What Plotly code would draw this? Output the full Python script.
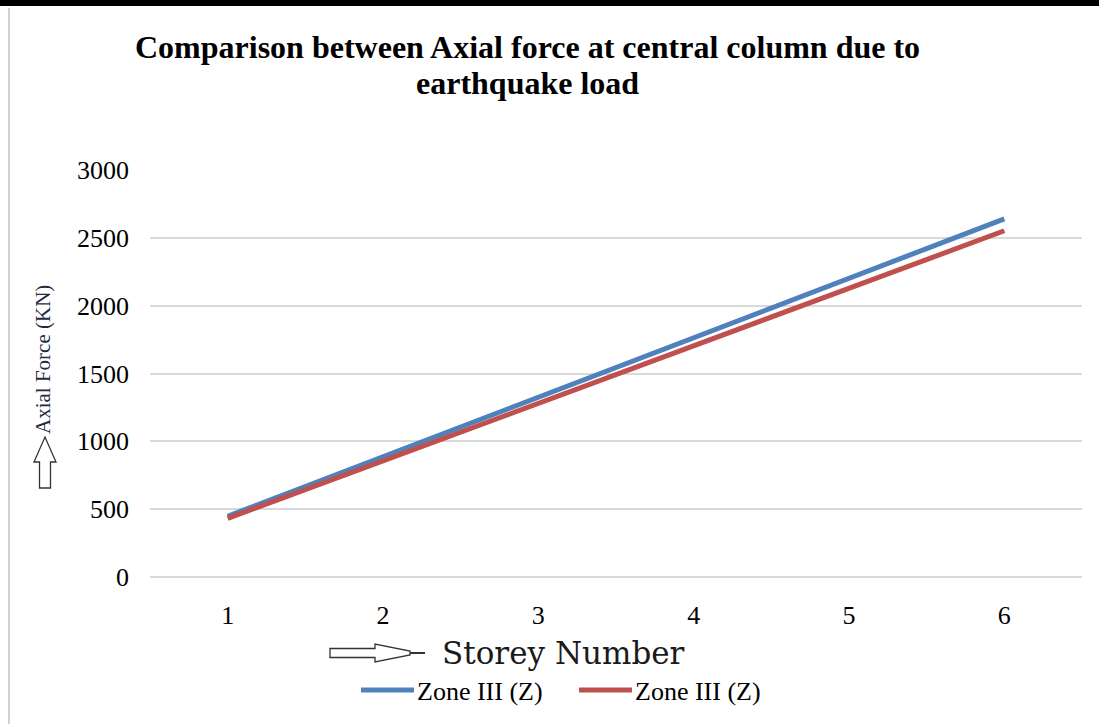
import plotly.graph_objects as go

# storey numbers and axial force (KN)
storeys = ["1", "2", "3", "4", "5", "6"]
zone_blue = [448, 886, 1323, 1760, 2200, 2640]
zone_red = [432, 855, 1276, 1697, 2122, 2552]
series_names = ["Zone III (Z)", "Zone III (Z)"]
series_colors = ["#4F81BD", "#C0504D"]
title_lines = ["Comparison between Axial force at central column due to", "earthquake load"]

W, H = 1099, 724
L, R, T, B = 150, 17, 170, 147
PW, PH = W - L - R, H - T - B


def px(x):
    return (x - L) / PW


def py(y):
    return (H - B - y) / PH


def path(points):
    return "M " + " L ".join(f"{px(x):.5f},{py(y):.5f}" for x, y in points) + " Z"


serif = "Liberation Serif, Times New Roman, serif"

fig = go.Figure(
    data=[
        go.Scatter(x=storeys, y=vals, mode="lines", name=name,
                   line=dict(color=col, width=5), showlegend=False)
        for vals, name, col in zip([zone_blue, zone_red], series_names, series_colors)
    ],
    layout=go.Layout(
        width=W,
        height=H,
        margin=dict(l=L, r=R, t=T, b=B, autoexpand=False),
        plot_bgcolor="white",
        paper_bgcolor="white",
        font=dict(family=serif, color="black", size=26),
        xaxis=dict(type="category", range=[-0.5, 5.5], showgrid=False, showline=False,
                   zeroline=False, ticks="", ticklabelstandoff=20, tickfont=dict(size=26)),
        yaxis=dict(range=[0, 3000], dtick=500, showgrid=True, gridcolor="#d9d9d9",
                   gridwidth=1.5, zeroline=True, zerolinecolor="#d9d9d9", zerolinewidth=1.5,
                   showline=False, ticks="", ticklabelstandoff=20, tickfont=dict(size=26)),
    ),
)

# title, one annotation per line to keep the tight line spacing
for line, ypix in zip(title_lines, [47, 83]):
    fig.add_annotation(
        x=px(527), y=py(ypix), xref="paper", yref="paper", showarrow=False,
        text=f"<b>{line}</b>", font=dict(family=serif, size=32, color="black"),
        xanchor="center", yanchor="middle",
    )

# legend drawn by hand so the line samples get the long Excel look
for i, (name, col) in enumerate(zip(series_names, series_colors)):
    x0 = 361 + i * 218
    fig.add_shape(type="line", xref="paper", yref="paper",
                  x0=px(x0), x1=px(x0 + 53), y0=py(690), y1=py(690),
                  line=dict(color=col, width=5))
    fig.add_annotation(
        x=px(x0 + 56), y=py(691), xref="paper", yref="paper", showarrow=False,
        text=name, font=dict(family=serif, size=26, color="black"),
        xanchor="left", yanchor="middle", xshift=-2,
    )

# axis titles
fig.add_annotation(
    x=px(43), y=py(360), xref="paper", yref="paper", textangle=-90, showarrow=False,
    text="Axial Force (KN)",
    font=dict(family=serif, size=21, color="#1f2a44"),
    xanchor="center", yanchor="middle",
)
fig.add_annotation(
    x=px(563), y=py(653), xref="paper", yref="paper", showarrow=False,
    text="Storey Number",
    font=dict(family="DejaVu Serif, serif", size=31, color="#1a1a1a"),
    xanchor="center", yanchor="middle",
)

# outline arrows in front of the axis titles
fig.add_shape(type="path", xref="paper", yref="paper",
              path=path([(45 - 5.5, 488), (45 - 5.5, 462), (45 - 11, 462), (45, 437),
                         (45 + 11, 462), (45 + 5.5, 462), (45 + 5.5, 488)]),
              fillcolor="white", line=dict(color="#333333", width=1.3))
fig.add_shape(type="path", xref="paper", yref="paper",
              path=path([(330, 648.5), (375, 648.5), (375, 644), (410, 651), (410, 655),
                         (375, 662), (375, 657.5), (330, 657.5)]),
              fillcolor="white", line=dict(color="#333333", width=1.3))
fig.add_shape(type="line", xref="paper", yref="paper",
              x0=px(410), x1=px(425), y0=py(653), y1=py(653),
              line=dict(color="#333333", width=2))

# page frame
fig.add_shape(type="rect", xref="paper", yref="paper", x0=px(0), x1=px(W), y0=py(6), y1=py(0),
              fillcolor="black", line=dict(width=0), layer="above")
fig.add_shape(type="line", xref="paper", yref="paper", x0=px(9), x1=px(9), y0=py(8), y1=py(H),
              line=dict(color="#d0d0d0", width=2))

fig.write_html("out.html", config={"displayModeBar": False},
               post_script="document.body.style.margin='0';")
